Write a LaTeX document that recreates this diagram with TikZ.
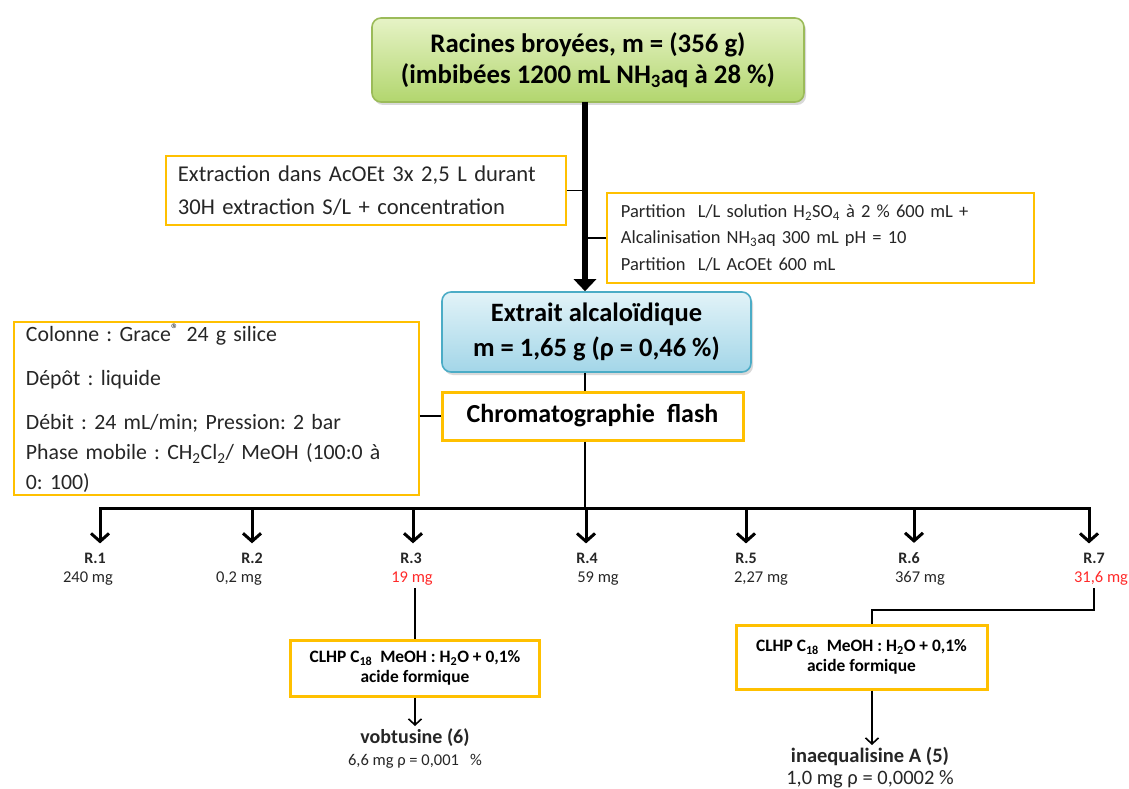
\documentclass[tikz,border=0pt]{standalone}
\usepackage{fontspec}
\setmainfont{Carlito}
\usetikzlibrary{arrows.meta, shadows}
\definecolor{ob}{HTML}{FFC000}
\definecolor{grline}{HTML}{9BBB59}
\definecolor{grtop}{HTML}{E6F3C6}
\definecolor{grbot}{HTML}{B2D66E}
\definecolor{blline}{HTML}{4BACC6}
\definecolor{bltop}{HTML}{E2F3F8}
\definecolor{blbot}{HTML}{A3D6E8}
\definecolor{txt}{HTML}{262626}
\definecolor{fred}{HTML}{FF2A2A}
\tikzset{
  stage/.style={rectangle, rounded corners=9pt, draw=#1line, line width=1.6pt,
                top color=#1top, bottom color=#1bot, text=black, align=center, inner sep=0pt,
                drop shadow={opacity=0.3, shadow xshift=2pt, shadow yshift=-3pt},
                font=\fontsize{26.5}{35}\selectfont\bfseries},
  cond/.style={rectangle, draw=ob, line width=1.8pt, fill=white, text=txt, align=left,
               inner xsep=12pt, inner ysep=2pt, anchor=north west},
  method/.style={rectangle, draw=ob, line width=3pt, fill=white, text=black, align=center,
                 inner sep=0pt, font=\fontsize{17.4}{20}\selectfont\bfseries},
  trunk/.style={line width=6pt, -{Triangle[length=12pt, width=22pt]}},
  link/.style={line width=1.6pt},
  bar/.style={line width=3pt, line cap=rect},
  split/.style={line width=3pt, -{Straight Barb[length=8pt, width=18pt]}},
  thin/.style={line width=1.6pt, -{Straight Barb[length=6pt, width=13pt]}},
  fracname/.style={font=\fontsize{16}{19}\selectfont\bfseries, text=txt, anchor=base, inner ysep=9pt},
  fracmass/.style={font=\fontsize{16.5}{19}\selectfont, anchor=base},
  product/.style={font=\fontsize{16.5}{22}\selectfont, align=center, text=txt, anchor=north, inner sep=2pt},
}

\begin{document}
\frenchspacing
\begin{tikzpicture}[x=1pt, y=-1pt]
  \useasboundingbox (0,0) rectangle (1129,789);

  \node[stage=gr, font=\fontsize{26.8}{31}\selectfont\bfseries, minimum width=432pt, minimum height=84pt] (top) at (588,60)
    {Racines broyées, m = (356 g)\\(imbibées 1200 mL NH\textsubscript{3}aq à 28 \%)};
  \node[stage=bl, minimum width=309pt, minimum height=80pt] (ext) at (596.5,332)
    {Extrait alcaloïdique\\m = 1,65 g (ρ = 0,46 \%)};
  \node[method, font=\fontsize{26}{26}\selectfont\bfseries, minimum width=301pt, minimum height=48pt] (chr) at (592.5,416)
    {Chromatographie~ flash};

  \node[cond, text width=376pt, minimum height=69pt, font=\fontsize{22.6}{33}\selectfont] (extr) at (165,155)
    {Extraction dans AcOEt 3x 2,5 L durant\\30H extraction S/L + concentration};
  \node[cond, text width=399pt, inner xsep=14pt, minimum height=90pt, font=\fontsize{18.5}{26.5}\selectfont] (part) at (606,192)
    {Partition~ L/L solution H\textsubscript{2}SO\textsubscript{4} à 2 \% 600 mL +\\
     Alcalinisation NH\textsubscript{3}aq 300 mL pH = 10\\
     Partition~ L/L AcOEt 600 mL};
  \node[cond, text width=381pt, minimum height=172pt, font=\fontsize{21.8}{30}\selectfont] (col) at (13,321)
    {Colonne : Grace\textsuperscript{®} 24 g silice\\[14pt]
     Dépôt : liquide\\[14pt]
     Débit : 24 mL/min; Pression: 2 bar\\
     Phase mobile : CH\textsubscript{2}Cl\textsubscript{2}/ MeOH (100:0 à\\
     0: 100)};

  \coordinate (axis) at (585,102);
  \draw[trunk] (axis) -- (axis |- ext.north);
  \draw[link] (extr.east) -- (extr.east -| axis);
  \draw[link] (axis |- part.west) -- (part.west);
  \draw[link] (ext.south -| axis) -- (chr.north -| axis);
  \draw[link] (col.east |- chr.west) -- (chr.west);

  \coordinate (fork) at (585,508);
  \draw[link] (chr.south -| fork) -- (fork);
  \foreach \k/\x/\rx/\mx/\mg/\col in {
    1/100/95/88/{240 mg}/txt,
    2/252/252/239/{0,2 mg}/txt,
    3/413/411/412/{19 mg}/fred,
    4/586/587/598/{59 mg}/txt,
    5/746/746/761/{2,27 mg}/txt,
    6/914/909/920/{367 mg}/txt,
    7/1089/1094/1101/{31,6 mg}/fred}{
    \coordinate (b\k) at (\x,508);
    \node[fracname] (r\k) at (\rx,563) {R.\k};
    \node[fracmass, text=\col] (m\k) at (\mx,582) {\mg};
    \draw[split] (b\k) -- (b\k |- r\k.north);
  }
  \draw[bar] (b1) -- (b7);

  \node[method, minimum width=249pt, minimum height=56pt] (hp1) at (415,668)
    {CLHP C\textsubscript{18}~ MeOH : H\textsubscript{2}O + 0,1\%\\acide formique};
  \node[method, minimum width=251pt, minimum height=64pt] (hp2) at (861.5,657)
    {CLHP C\textsubscript{18}~ MeOH : H\textsubscript{2}O + 0,1\%\\acide formique};

  \node[product] (vob) at (415,726)
    {{\fontsize{20}{22}\selectfont\bfseries vobtusine (6)}\\6,6 mg ρ = 0,001~~ \%};
  \node[product, font=\fontsize{20.5}{22}\selectfont] (ina) at (870,745)
    {\textbf{inaequalisine A (5)}\\1,0 mg ρ = 0,0002 \%};

  \draw[link] (m3.south -| hp1.north) -- (hp1.north);
  \draw[thin] (hp1.south) -- (vob.north);
  \coordinate (elbow) at (872,610);
  \draw[link] (m7.south -| r7) |- (elbow) -- (elbow |- hp2.north);
  \draw[thin] (elbow |- hp2.south) -- (elbow |- ina.north);
\end{tikzpicture}
\end{document}
